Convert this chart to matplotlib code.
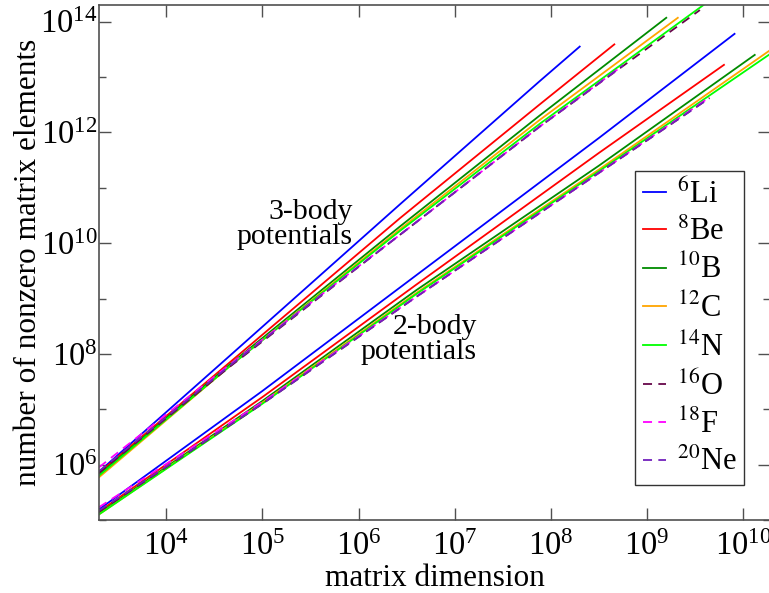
import numpy as np
import matplotlib.pyplot as plt
from matplotlib.ticker import LogLocator, LogFormatterMathtext, NullFormatter

plt.rcParams['font.family'] = ['Liberation Serif', 'DejaVu Serif']
plt.rcParams['mathtext.fontset'] = 'stix'

labels = [r'$^{6}$Li', r'$^{8}$Be', r'$^{10}$B', r'$^{12}$C',
          r'$^{14}$N', r'$^{16}$O', r'$^{18}$F', r'$^{20}$Ne']
colors = ['#0000ff', '#ff0000', '#008b00', '#ffa500',
          '#00ff00', '#67074a', '#ff00ff', '#7221bc']
dashed = [False, False, False, False, False, True, True, True]

# all values are log10; 3-body curves sampled at shared dimensions, then each curve's last point
x3 = [3.30, 4.67, 6.43, 7.88]
li3 = [5.87, 7.98, 10.70, 12.92]
be3 = [5.85, 7.86, 10.45, 12.50]
b3 = [5.82, 7.82, 10.30, 12.30]
c3 = [5.77, 7.79, 10.25, 12.22]
n3 = [5.80, 7.79, 10.22, 12.15]
o3 = [5.85, 7.78, 10.15, 12.10]
f3 = [5.95, 7.82, 10.15, 12.10]
ne3 = [5.88, 7.80, 10.15, 12.10]
end3_x = [8.30, 8.66, 9.20, 9.32, 9.65, 9.55, 8.75, 8.75]
end3_y = [13.55, 13.59, 14.07, 14.07, 14.38, 14.21, 13.21, 13.21]

# 2-body curves
x2 = [3.30, 5.0, 6.6, 8.5]
li2 = [5.19, 7.33, 9.42, 11.90]
be2 = [5.15, 7.22, 9.25, 11.63]
b2 = [5.12, 7.15, 9.15, 11.40]
c2 = [5.10, 7.12, 9.10, 11.33]
n2 = [5.10, 7.10, 9.08, 11.30]
o2 = [5.15, 7.10, 9.03, 11.27]
f2 = [5.23, 7.13, 9.03, 11.27]
ne2 = [5.17, 7.10, 9.03, 11.27]
end2_x = [9.91, 9.80, 10.12, 10.35, 10.35, 9.65, 9.62, 9.65]
end2_y = [13.78, 13.22, 13.40, 13.57, 13.50, 12.62, 12.60, 12.62]

body3 = [li3, be3, b3, c3, n3, o3, f3, ne3]
body2 = [li2, be2, b2, c2, n2, o2, f2, ne2]

fig = plt.figure(figsize=(7.69, 5.93), dpi=100)
ax = fig.add_axes([99/769, 1 - 520/593, 671/769, 515/593])

for i in range(8):
    ls = (0, (5, 3.5)) if dashed[i] else '-'
    xs = 10**np.array(x3 + [end3_x[i]])
    ys = 10**np.array(body3[i] + [end3_y[i]])
    ax.plot(xs, ys, color=colors[i], lw=1.3, ls=ls, label=labels[i])
    xs = 10**np.array(x2 + [end2_x[i]])
    ys = 10**np.array(body2[i] + [end2_y[i]])
    ax.plot(xs, ys, color=colors[i], lw=1.3, ls=ls)

ax.set_xscale('log')
ax.set_yscale('log')
ax.set_xlim(2e3, 1.9e10)
ax.set_ylim(1e5, 2e14)

ax.xaxis.set_major_locator(LogLocator(base=10, numticks=20))
ax.xaxis.set_minor_locator(LogLocator(base=10, subs=[], numticks=20))
ax.yaxis.set_major_locator(LogLocator(base=100, numticks=20))
ax.yaxis.set_minor_locator(LogLocator(base=10, numticks=20, subs=[1.0]))
ax.yaxis.set_major_formatter(LogFormatterMathtext())
ax.yaxis.set_minor_formatter(NullFormatter())
ax.xaxis.set_major_formatter(LogFormatterMathtext())

grey = '#505050'
for s in ax.spines.values():
    s.set_color(grey)
    s.set_linewidth(1.2)
ax.tick_params(which='both', direction='in', top=True, right=True, color=grey, width=1.0)
ax.tick_params(which='major', length=8.5, labelsize=23.5)
ax.tick_params(which='minor', length=5)
ax.tick_params(axis='x', pad=8)
ax.tick_params(axis='y', pad=1)

ax.set_xlabel('matrix dimension', fontsize=22.5, labelpad=2)
ax.set_ylabel('number of nonzero matrix elements', fontsize=22.5, labelpad=-2)

ax.text(0.378, 0.573, '3-body\npotentials', transform=ax.transAxes, fontsize=21.5,
        ha='right', va='center', multialignment='right', linespacing=0.95)
ax.text(0.563, 0.35, '2-body\npotentials', transform=ax.transAxes, fontsize=21.5,
        ha='right', va='center', multialignment='right', linespacing=0.95)

leg = ax.legend(loc='upper right', bbox_to_anchor=(0.9613, 0.6777), fontsize=22,
                handlelength=0.75, handletextpad=0.35, labelspacing=0.27,
                borderpad=0.25, borderaxespad=0, fancybox=False, framealpha=1)
leg.get_frame().set_edgecolor('#333333')
leg.get_frame().set_linewidth(1.0)

plt.savefig('out.png', dpi=100)
